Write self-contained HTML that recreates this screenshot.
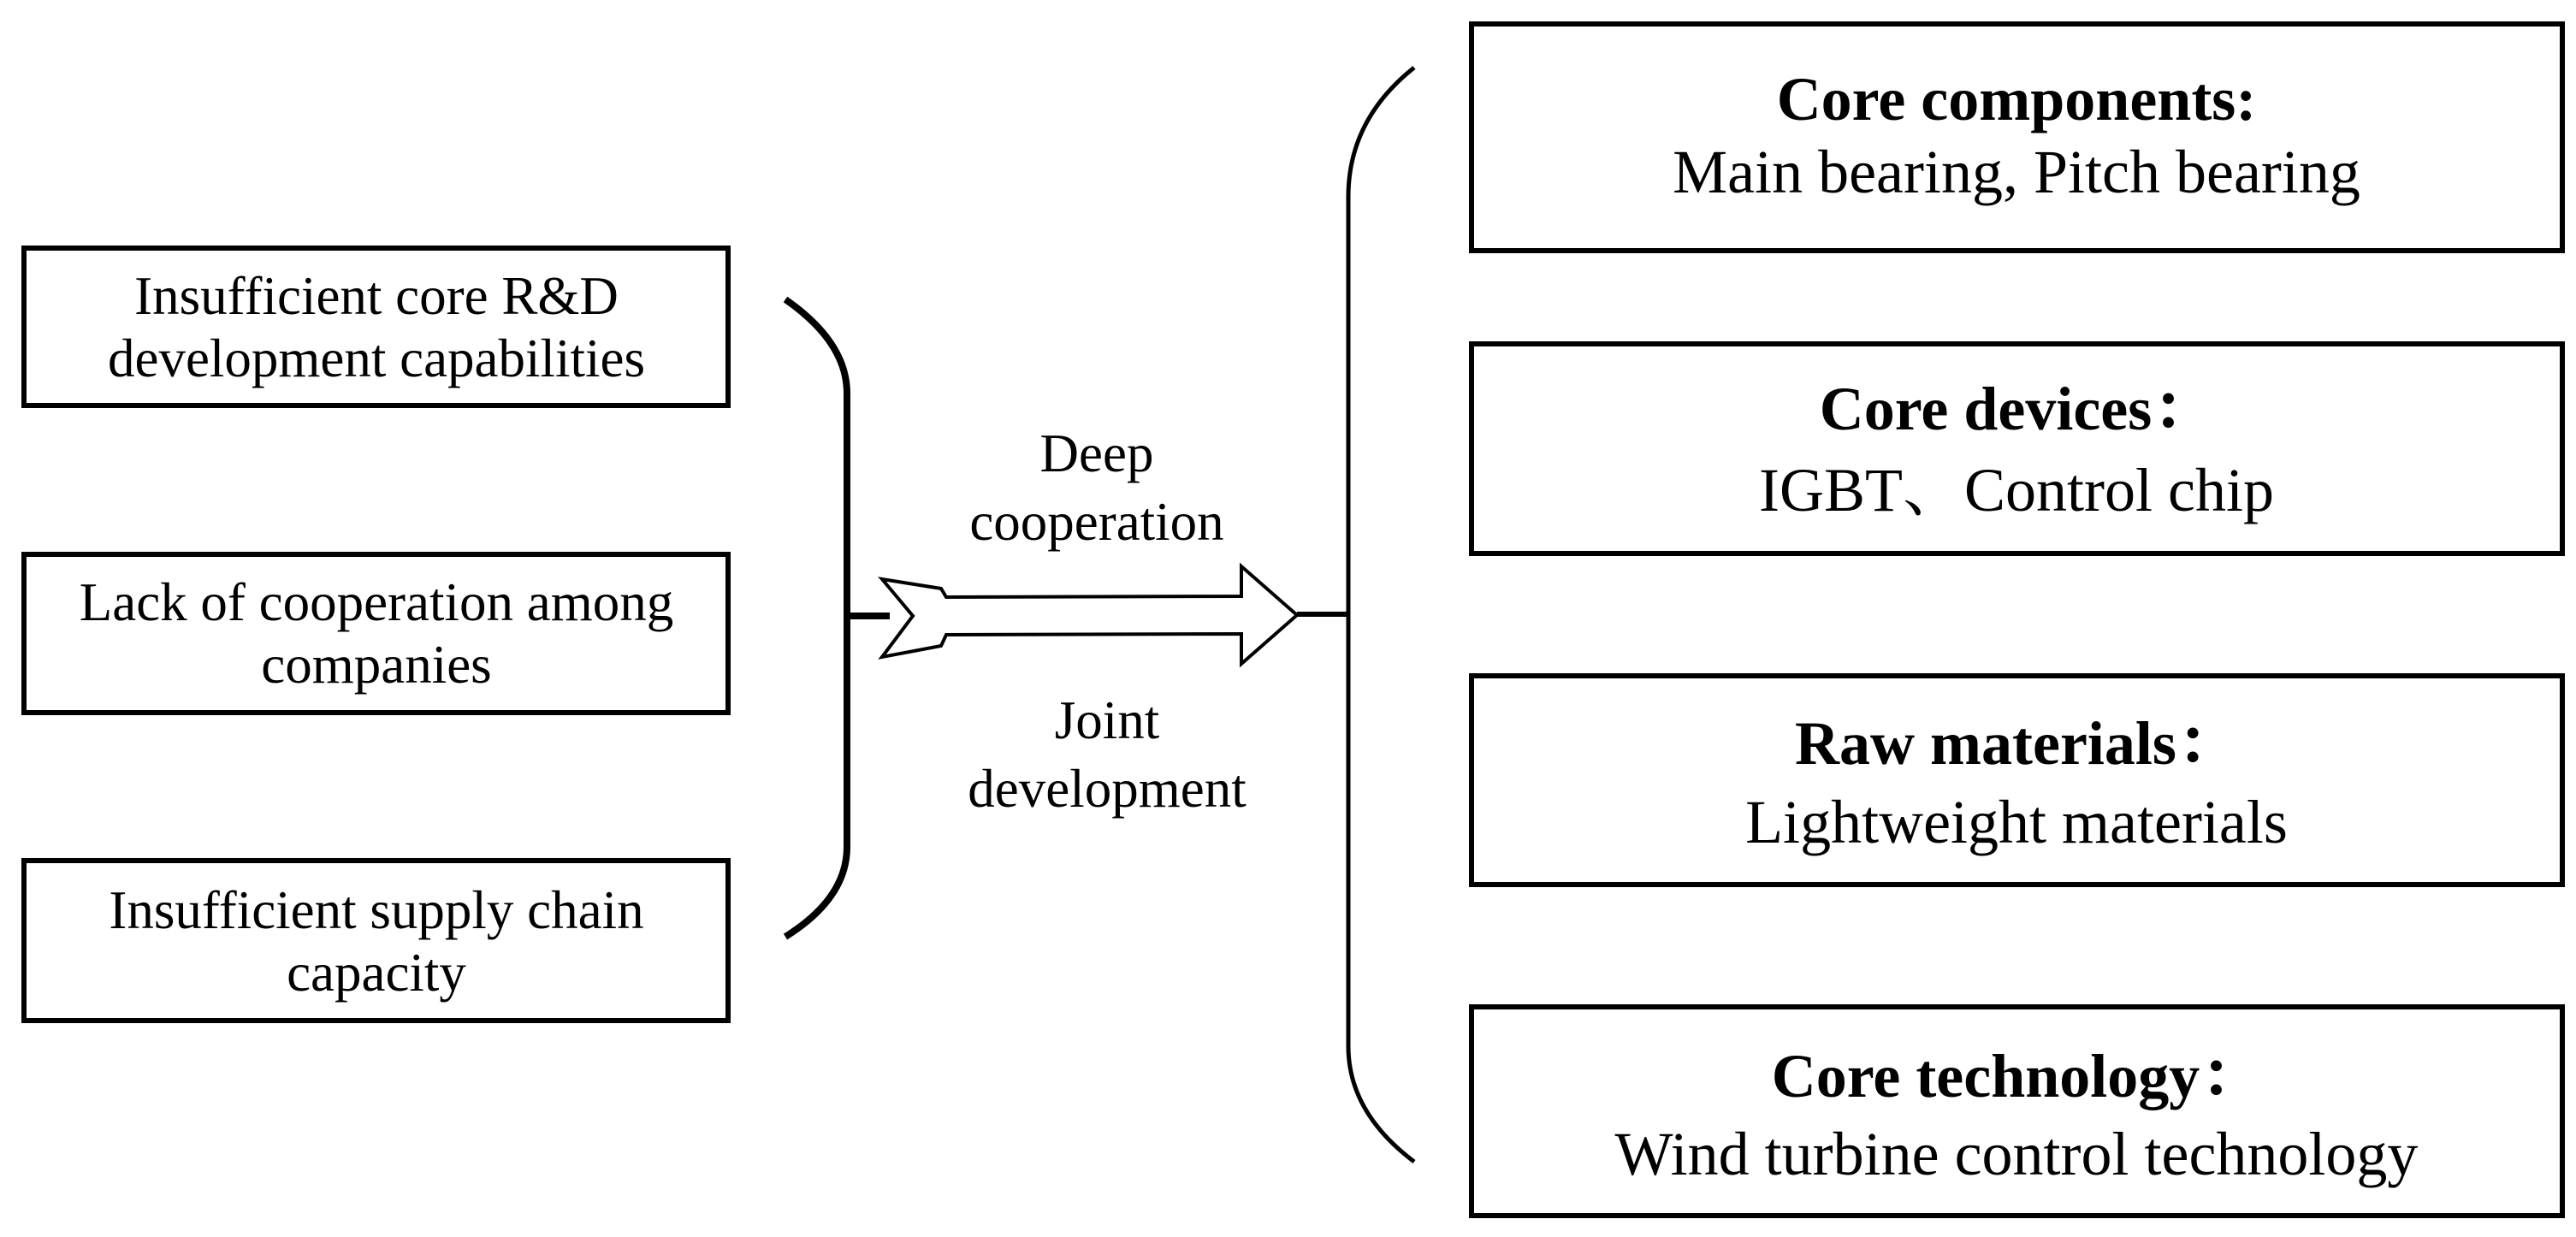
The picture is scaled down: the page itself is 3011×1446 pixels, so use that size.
<!DOCTYPE html>
<html><head><meta charset="utf-8"><style>
html,body{margin:0;padding:0;background:#fff}
svg{display:block}
text{font-family:"Liberation Serif","Noto Serif CJK SC",serif;fill:#000}
</style></head><body>
<svg width="3011" height="1446" viewBox="0 0 3011 1446" xmlns="http://www.w3.org/2000/svg">
<g fill="none" stroke="#000" stroke-width="6">
<rect x="28" y="290" width="823" height="184"/>
<rect x="28" y="648" width="823" height="185"/>
<rect x="28" y="1006" width="823" height="187"/>
<rect x="1720" y="28" width="1275" height="265"/>
<rect x="1720" y="402" width="1275" height="245"/>
<rect x="1720" y="790" width="1275" height="244"/>
<rect x="1720" y="1177" width="1275" height="244"/>
<path d="M918 350 Q990 400 990 460 L990 990 Q990 1050 918 1095" stroke-width="8"/>
<line x1="990" y1="720" x2="1040" y2="720" stroke-width="8"/>
<path d="M1653 79 Q1576 140 1576 230 L1576 1223 Q1576 1300 1653 1358" stroke-width="5"/>
<line x1="1516" y1="718" x2="1576" y2="718" stroke-width="6"/>
<path d="M1031 677 L1100 688 L1106 698 L1451 697 L1451 662 L1516 719 L1451 776 L1451 741 L1106 742 L1100 755 L1031 768 L1067 720 Z" fill="#fff" stroke-width="4"/>
</g>
<g text-anchor="middle" font-size="63">
<text x="440" y="367">Insufficient core R&amp;D</text>
<text x="440" y="440">development capabilities</text>
<text x="440" y="725">Lack of cooperation among</text>
<text x="440" y="798">companies</text>
<text x="440" y="1085">Insufficient supply chain</text>
<text x="440" y="1158">capacity</text>
</g>
<g text-anchor="middle" font-size="63">
<text x="1282" y="551">Deep</text>
<text x="1282" y="631">cooperation</text>
<text x="1294" y="863">Joint</text>
<text x="1294" y="943">development</text>
</g>
<g text-anchor="middle" font-size="72">
<text x="2357" y="140" font-weight="bold">Core components:</text>
<text x="2357" y="225">Main bearing, Pitch bearing</text>
<text x="2357" y="502" font-weight="bold">Core devices：</text>
<text x="2357" y="597">IGBT、Control chip</text>
<text x="2357" y="893" font-weight="bold">Raw materials：</text>
<text x="2357" y="985">Lightweight materials</text>
<text x="2357" y="1282" font-weight="bold">Core technology：</text>
<text x="2357" y="1373">Wind turbine control technology</text>
</g>
</svg>
</body></html>
